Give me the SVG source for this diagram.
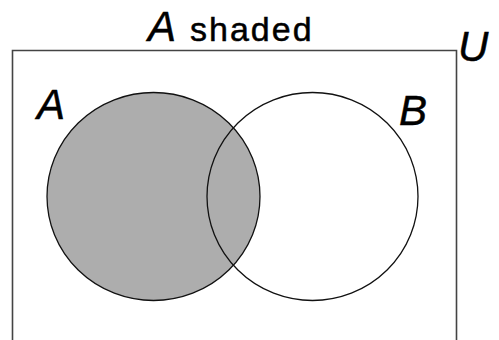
<svg xmlns="http://www.w3.org/2000/svg" width="499" height="340" viewBox="0 0 499 340">
<style>
.lbl{font-family:"Liberation Sans",Arial,sans-serif;fill:#000;stroke:#000;stroke-width:0.5}
.it{font-style:italic;font-size:42px}
.set{stroke:#111;stroke-width:1.3}
</style>
<rect width="499" height="340" fill="#fff"/>
<g id="universe">
<path d="M12.5,345 V50.5 H456.5 V345" fill="none" stroke="#444" stroke-width="1.6"/>
<text class="lbl it" x="458" y="61">U</text>
</g>
<g id="title">
<text class="lbl" x="148" y="41"><tspan class="it">A</tspan><tspan font-size="34" letter-spacing="2" dx="14">shaded</tspan></text>
</g>
<g id="setA">
<ellipse class="set" cx="153.5" cy="196.5" rx="106.5" ry="104" fill="#adadad"/>
<text class="lbl it" x="37" y="119">A</text>
</g>
<g id="setB">
<ellipse class="set" cx="312.5" cy="196.5" rx="105.5" ry="104" fill="none"/>
<text class="lbl it" x="399" y="125">B</text>
</g>
</svg>
